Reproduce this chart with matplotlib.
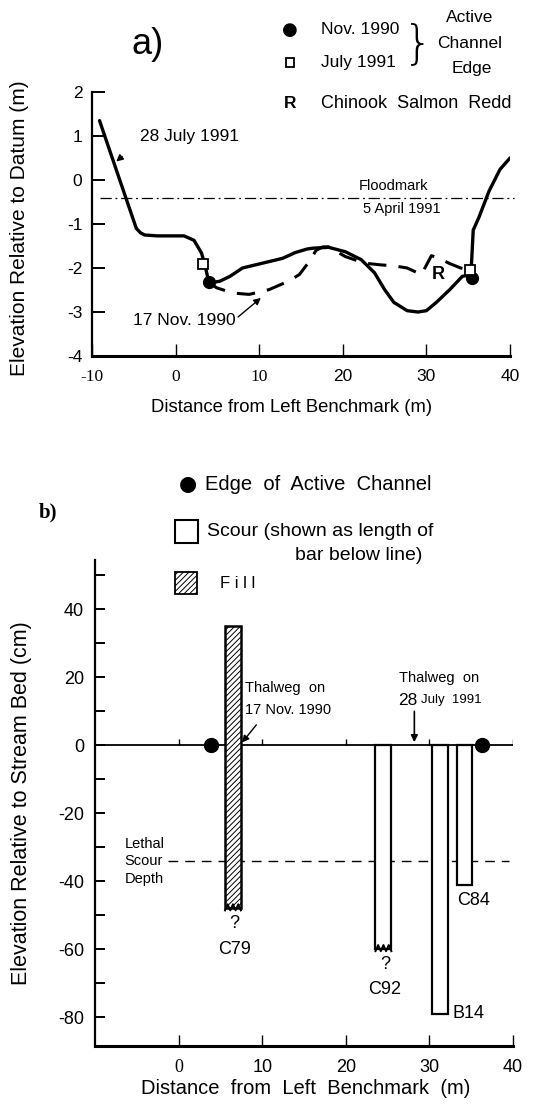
import matplotlib
matplotlib.use("Agg")
import matplotlib.pyplot as plt
from matplotlib.patches import Rectangle

W, H = 533, 1109
SANS = ["Liberation Sans", "DejaVu Sans"]
SERIF = ["Liberation Serif", "DejaVu Serif"]
plt.rcParams['font.family'] = SANS
plt.rcParams['hatch.linewidth'] = 0.7

# ---- panel a: cross section
solid_x = [-9.1, -6.5, -4.7, -4.2, -3.7, -2.2, 1.0, 2.2, 3.1, 3.5, 3.9, 4.4, 5.3, 6.5, 8.0, 10.4,
           12.8, 14.3, 15.7, 16.4, 18.3, 20.3, 22.2, 23.8, 25.0, 26.1, 27.7, 29.0, 30.0, 31.2, 32.8,
           34.3, 35.3, 35.4, 35.6, 36.3, 37.5, 38.8, 40.0]
solid_y = [1.35, -0.10, -1.10, -1.20, -1.25, -1.27, -1.27, -1.37, -1.66, -1.93, -2.26, -2.33, -2.30,
           -2.19, -2.00, -1.89, -1.78, -1.65, -1.57, -1.55, -1.53, -1.63, -1.81, -2.11, -2.49, -2.78,
           -2.97, -3.00, -2.97, -2.78, -2.49, -2.19, -2.15, -1.89, -1.14, -0.84, -0.25, 0.24, 0.50]
dash_x = [4.0, 4.9, 6.9, 8.8, 11.2, 13.5, 14.8, 16.0, 16.8, 17.6, 18.3, 20.3, 22.6, 24.6, 26.1, 27.7,
          29.4, 30.6, 31.5, 32.8, 34.1, 35.2]
dash_y = [-2.32, -2.45, -2.57, -2.60, -2.49, -2.30, -2.15, -1.85, -1.60, -1.52, -1.52, -1.74, -1.89,
          -1.93, -1.95, -2.00, -2.15, -1.72, -1.78, -1.90, -2.00, -2.05]
nov_edge_x = [4.0, 35.5]
nov_edge_y = [-2.32, -2.22]
jul_edge_x = [3.3, 35.2]
jul_edge_y = [-1.90, -2.05]
floodmark = -0.40
redd_x, redd_y = 31.4, -2.15
a_yticks = [2, 1, 0, -1, -2, -3, -4]
a_xticks = [-10, 0, 10, 20, 30, 40]

# ---- panel b: scour / fill
bar_names = ["C79", "C92", "B14", "C84"]
bar_x = [6.5, 24.5, 31.3, 34.2]
bar_depth = [-48, -60, -79, -41]
bar_uncertain = [True, True, False, False]
fill_top = 35
edge_b_x = [3.9, 36.3]
lethal_depth = -34
thalweg_nov_x = 7.6
thalweg_jul_x = 28.2
b_yticks = [40, 20, 0, -20, -40, -60, -80]
b_minor = [50, 30, 10, -10, -30, -50, -70]
b_xticks = [0, 10, 20, 30, 40]
bar_w = 1.9


def fig_xy(x, y):
    return x / W, 1 - y / H


fig = plt.figure(figsize=(W / 100, H / 100), dpi=100)

# ================= panel a
ax = fig.add_axes([92 / W, 1 - 356 / H, 418 / W, 264 / H])
ax.set_xlim(-10, 40)
ax.set_ylim(-4, 2)
for s in ["top", "right"]:
    ax.spines[s].set_visible(False)
ax.spines["left"].set_linewidth(1.6)
ax.spines["bottom"].set_linewidth(2.2)
ax.set_yticks(a_yticks, [str(v) for v in a_yticks])
ax.set_xticks(a_xticks, [str(v) for v in a_xticks])
ax.tick_params(direction="in", length=9, width=1.4, labelsize=12.5, pad=7)
ax.tick_params(axis="x", width=1.0, pad=9)
for lbl in ax.get_xticklabels():
    if lbl.get_text() in ("-10", "0", "10"):
        lbl.set_fontfamily(SERIF)

ax.plot(solid_x, solid_y, color="black", lw=2.4, solid_capstyle="round", zorder=3)
ax.plot(dash_x, dash_y, color="black", lw=2.2, dashes=(6, 4), zorder=3)
ax.plot([-9, 40.5], [floodmark, floodmark], color="black", lw=0.9,
        dashes=(9, 3, 1.5, 3), clip_on=False)
ax.plot(nov_edge_x, nov_edge_y, "o", color="black", ms=8.5, zorder=4)
ax.plot(jul_edge_x, jul_edge_y, "s", mfc="white", mec="black", mew=1.3, ms=7, zorder=5)
ax.text(redd_x, redd_y, "R", fontsize=13, fontweight="bold", ha="center", va="center")

ax.text(26.1, -0.13, "Floodmark", fontsize=10.5, ha="center", va="center")
ax.text(27.1, -0.66, "5 April 1991", fontsize=10.5, ha="center", va="center")
ax.annotate("28 July 1991", xy=(-7.1, 0.42), xytext=(-4.3, 0.98), fontsize=12.5,
            ha="left", va="center",
            arrowprops=dict(arrowstyle="-|>", color="black", lw=1.0, shrinkA=14,
                            shrinkB=0, mutation_scale=10, relpos=(0, 0.2)))
ax.annotate("17 Nov. 1990", xy=(10.2, -2.68), xytext=(1.0, -3.2), fontsize=12.5,
            ha="center", va="center",
            arrowprops=dict(arrowstyle="-|>", color="black", lw=1.0, shrinkA=0,
                            shrinkB=0, mutation_scale=10, relpos=(1, 0.6)))

fig.text(*fig_xy(20, 228), "Elevation Relative to Datum (m)", rotation=90,
         fontsize=15, ha="center", va="center")
fig.text(*fig_xy(292, 408), "Distance from Left Benchmark (m)", fontsize=13.3,
         ha="center", va="center")
fig.text(*fig_xy(148, 45), "a)", fontsize=26, ha="center", va="center")

# legend a
fig.text(*fig_xy(290, 30), "\u25cf", fontsize=13, ha="center", va="center",
         family=["DejaVu Sans"])
fig.patches.append(Rectangle(fig_xy(286, 67), 8 / W, 9 / H, transform=fig.transFigure,
                             facecolor="white", edgecolor="black", lw=1.3))
fig.text(*fig_xy(321, 30), "Nov. 1990", fontsize=12.5, ha="left", va="center")
fig.text(*fig_xy(321, 62), "July 1991", fontsize=12.5, ha="left", va="center")
fig.text(*fig_xy(418, 44), "}", fontsize=34, ha="center", va="center",
         family=["DejaVu Sans"], fontweight="light")
fig.text(*fig_xy(470, 17), "Active", fontsize=12.5, ha="center", va="center")
fig.text(*fig_xy(470, 43), "Channel", fontsize=12.5, ha="center", va="center")
fig.text(*fig_xy(472, 69), "Edge", fontsize=12.5, ha="center", va="center")
fig.text(*fig_xy(290, 103), "R", fontsize=12.5, fontweight="bold", ha="center", va="center")
fig.text(*fig_xy(321, 103), "Chinook  Salmon  Redd", fontsize=13, ha="left", va="center")

# ================= panel b
bx = fig.add_axes([95 / W, 1 - 1046 / H, 418 / W, 486 / H])
bx.set_xlim(-10, 40)
bx.set_ylim(-88.5, 54.5)
for s in ["top", "right"]:
    bx.spines[s].set_visible(False)
bx.spines["left"].set_linewidth(1.6)
bx.spines["bottom"].set_linewidth(2.2)
bx.set_yticks(b_yticks, [str(v) for v in b_yticks])
bx.set_yticks(b_minor, minor=True)
bx.set_xticks(b_xticks, [str(v) for v in b_xticks])
bx.tick_params(axis="y", which="both", direction="in", length=7, width=1.4,
               labelsize=13, pad=8)
bx.tick_params(axis="x", direction="in", length=8, width=1.0, labelsize=13, pad=9)
bx.get_xticklabels()[0].set_fontfamily(SERIF)

bx.plot([-10, 40], [0, 0], color="black", lw=1.3, zorder=2)
bx.vlines(b_xticks, 0, 1.8, color="black", lw=1.0)
bx.hlines(lethal_depth, -1.3, 39.5, color="black", lw=1.0, linestyles=(0, (7, 5)))

for name, xc, d, unc in zip(bar_names, bar_x, bar_depth, bar_uncertain):
    if name == "C79":
        bx.bar(xc, fill_top - d, bottom=d, width=bar_w, facecolor="white",
               edgecolor="black", hatch="//////", lw=1.8, zorder=3)
    else:
        bx.bar(xc, d, bottom=0, width=bar_w, facecolor="white", edgecolor="black",
               lw=1.6, zorder=3)
    if unc:
        # wavy broken bottom
        xs = [xc - bar_w / 2 + i * bar_w / 6 for i in range(7)]
        ys = [d + (1.2 if i % 2 else -0.6) for i in range(7)]
        bx.plot(xs, ys, color="black", lw=1.4, zorder=4)
        bx.text(xc + 0.2, d - 4.5, "?", fontsize=13, ha="center", va="center")
        bx.text(xc + 0.2, d - 12, name, fontsize=13, ha="center", va="center")

bx.text(bar_x[2] + 1.5, bar_depth[2], "B14", fontsize=13, ha="left", va="center")
bx.text(bar_x[3] + 1.1, bar_depth[3] - 4.8, "C84", fontsize=13, ha="center", va="center")
bx.plot(edge_b_x, [0, 0], "o", color="black", ms=10, zorder=5, clip_on=False)

bx.text(8.0, 16.7, "Thalweg  on", fontsize=10.5, ha="left", va="center")
bx.text(8.0, 10.3, "17 Nov. 1990", fontsize=10.5, ha="left", va="center")
bx.annotate("", xy=(thalweg_nov_x, 0.8), xytext=(9.3, 6.0),
            arrowprops=dict(arrowstyle="-|>", color="black", lw=1.0, shrinkA=0,
                            shrinkB=0, mutation_scale=10))
bx.text(31.1, 19.7, "Thalweg  on", fontsize=10.5, ha="center", va="center")
bx.text(26.3, 13.3, "28", fontsize=12.5, ha="left", va="center")
bx.text(29.0, 13.3, "July  1991", fontsize=9.5, ha="left", va="center")
bx.annotate("", xy=(thalweg_jul_x, 0.9), xytext=(thalweg_jul_x, 10.0),
            arrowprops=dict(arrowstyle="-|>", color="black", lw=1.2, shrinkA=0,
                            shrinkB=0, mutation_scale=10))
bx.text(-6.5, -29, "Lethal", fontsize=10.5, ha="left", va="center")
bx.text(-6.5, -34.2, "Scour", fontsize=10.5, ha="left", va="center")
bx.text(-6.5, -39.4, "Depth", fontsize=10.5, ha="left", va="center")

fig.text(*fig_xy(22, 803), "Elevation Relative to Stream Bed (cm)", rotation=90,
         fontsize=15.5, ha="center", va="center")
fig.text(*fig_xy(306, 1088), "Distance  from  Left  Benchmark  (m)", fontsize=14.5,
         ha="center", va="center")
fig.text(*fig_xy(48, 512), "b)", fontsize=15, fontweight="bold", ha="center",
         va="center", family=SERIF)

# legend b
fig.text(*fig_xy(188, 484), "\u25cf", fontsize=15, ha="center", va="center",
         family=["DejaVu Sans"])
fig.text(*fig_xy(205, 484), "Edge  of  Active  Channel", fontsize=14.5, ha="left", va="center")
fig.patches.append(Rectangle(fig_xy(175, 543), 23 / W, 23 / H, transform=fig.transFigure,
                             facecolor="white", edgecolor="black", lw=1.5))
fig.text(*fig_xy(207, 532), "Scour (shown as length of", fontsize=14, ha="left", va="center")
fig.text(*fig_xy(295, 555), "bar below line)", fontsize=14, ha="left", va="center")
fig.patches.append(Rectangle(fig_xy(175, 594), 22 / W, 22 / H, transform=fig.transFigure,
                             facecolor="white", edgecolor="black", lw=1.3, hatch="//////"))
fig.text(*fig_xy(220, 584), "F i l l", fontsize=12, ha="left", va="center")

fig.savefig("out.png", dpi=100)
